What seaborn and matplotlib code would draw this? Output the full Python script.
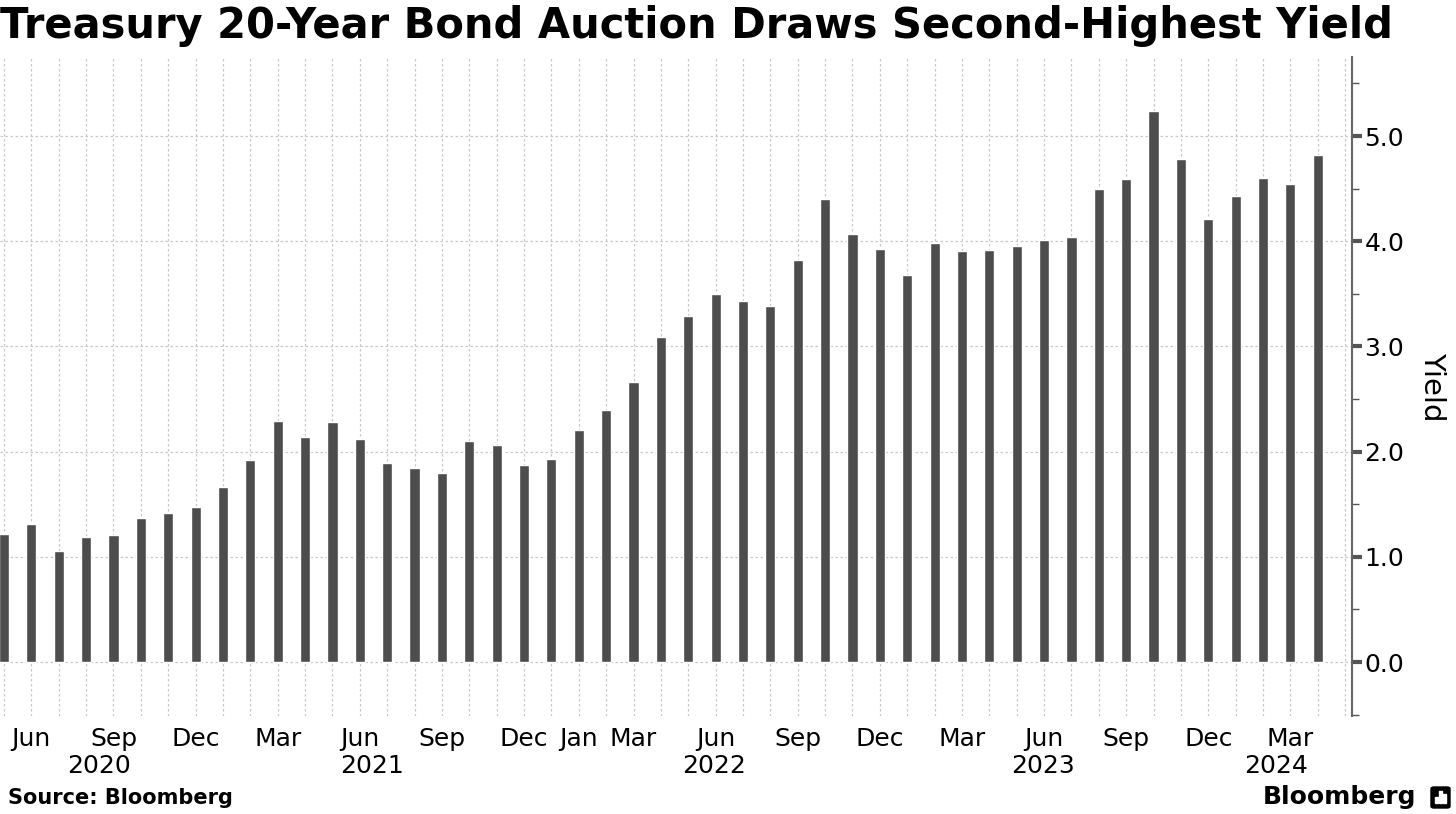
import numpy as np
import pandas as pd
import seaborn as sns
import matplotlib.pyplot as plt
from matplotlib.patches import FancyBboxPatch, Rectangle
from matplotlib.ticker import FixedLocator, MultipleLocator
import matplotlib.transforms as mtransforms

# auction yields (%), one bar per auction, May 2020 -> Apr 2024
yields = [1.22, 1.31, 1.06, 1.19, 1.21, 1.37, 1.42, 1.47, 1.66, 1.92,
          2.29, 2.14, 2.28, 2.12, 1.89, 1.84, 1.80, 2.10, 2.06, 1.87,
          1.93, 2.21, 2.40, 2.66, 3.09, 3.29, 3.50, 3.43, 3.38, 3.82,
          4.40, 4.07, 3.93, 3.68, 3.98, 3.91, 3.92, 3.95, 4.01, 4.04,
          4.50, 4.59, 5.24, 4.78, 4.21, 4.43, 4.60, 4.54, 4.82]

# month labels and the bar they sit under
month_pos = [1, 4, 7, 10, 13, 16, 19, 21, 23, 26, 29, 32, 35, 38, 41, 44, 47]
month_lab = ["Jun", "Sep", "Dec", "Mar", "Jun", "Sep", "Dec", "Jan", "Mar",
             "Jun", "Sep", "Dec", "Mar", "Jun", "Sep", "Dec", "Mar"]
year_pos = [3.47, 13.45, 25.94, 37.96, 46.47]
year_lab = ["2020", "2021", "2022", "2023", "2024"]

bar_color = "#4d4d4d"
grid_color = "#c8c8c8"

df = pd.DataFrame({"idx": np.arange(len(yields)), "yield": yields})

sns.set_style("white")
plt.rcParams["font.family"] = ["DejaVu Sans"]
plt.rcParams["text.color"] = "black"
plt.rcParams["axes.labelcolor"] = "black"

fig = plt.figure(figsize=(14.56, 8.14), dpi=100)
ax = fig.add_axes([0.0, 1 - 716 / 814, 1352 / 1456, (716 - 57) / 814])

sns.barplot(data=df, x="idx", y="yield", native_scale=True, width=0.37,
            color=bar_color, saturation=1, ax=ax, zorder=3)

ax.set_xlim(-0.146, 49.25)
ax.set_ylim(-0.513, 5.751)

# gridlines: every auction vertically, every 1.0 horizontally
ax.xaxis.set_minor_locator(FixedLocator(np.arange(0, 50)))
ax.xaxis.set_major_locator(FixedLocator(month_pos))
ax.set_xticklabels(month_lab)
ax.grid(which="both", axis="x", color=grid_color, linestyle=(0, (2, 2)), linewidth=0.9, zorder=0)
ax.grid(which="major", axis="y", color=grid_color, linestyle=(0, (2, 2)), linewidth=0.9, zorder=0)
ax.tick_params(axis="x", which="both", length=0, labelsize=18, pad=8, colors="black")

ax.yaxis.tick_right()
ax.yaxis.set_label_position("right")
ax.yaxis.set_major_locator(MultipleLocator(1.0))
ax.yaxis.set_minor_locator(MultipleLocator(0.5))
ax.yaxis.set_major_formatter(plt.FuncFormatter(lambda v, p: f"{v:.1f}"))
ax.tick_params(axis="y", which="major", direction="out", length=7, width=3,
               color="#555555", labelsize=18, pad=2, labelcolor="black")
ax.tick_params(axis="y", which="minor", direction="out", length=5, width=1, color="#555555")
ax.set_ylabel("Yield", fontsize=21, rotation=-90, labelpad=30, color="black")

for s in ["top", "left", "bottom"]:
    ax.spines[s].set_visible(False)
ax.spines["right"].set_color("#666666")
ax.spines["right"].set_linewidth(1.5)
ax.set_xlabel("")

trans = mtransforms.blended_transform_factory(ax.transData, fig.transFigure)
for p, t in zip(year_pos, year_lab):
    ax.text(p, 1 - 766 / 814, t, transform=trans, ha="center", va="center", fontsize=18)

fig.text(0.0, 1 - 26 / 814, "Treasury 20-Year Bond Auction Draws Second-Highest Yield",
         fontsize=30, fontweight="bold", ha="left", va="center", color="black")
fig.text(8 / 1456, 1 - 798 / 814, "Source: Bloomberg", fontsize=15, fontweight="bold",
         ha="left", va="center", color="black")
fig.text(1416 / 1456, 1 - 797 / 814, "Bloomberg", fontsize=18, fontweight="bold",
         ha="right", va="center", color="black")

# little logo square
fig.patches.append(FancyBboxPatch((1431 / 1456, 1 - 808 / 814), 19 / 1456, 21 / 814,
                                  boxstyle="round,pad=0,rounding_size=0.002",
                                  transform=fig.transFigure, color="black"))
for dx, h in [(4, 6), (8, 12), (12, 9)]:
    fig.patches.append(Rectangle(((1431 + dx) / 1456, 1 - 803 / 814), 3 / 1456, h / 814,
                                 transform=fig.transFigure, color="white"))

fig.savefig("out.png", dpi=100)
